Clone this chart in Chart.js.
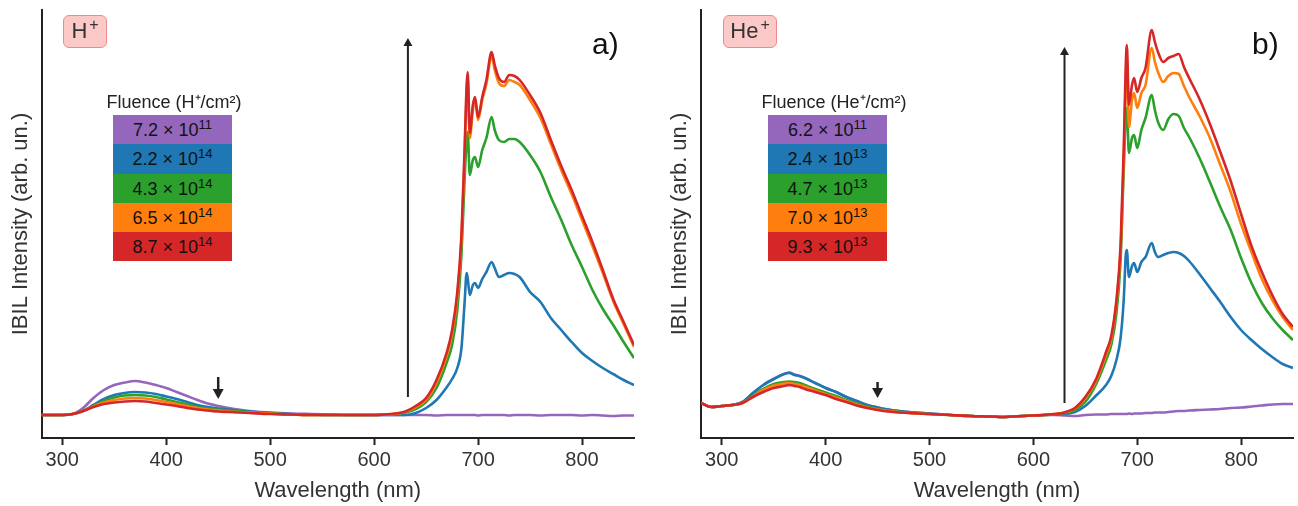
<!DOCTYPE html>
<html>
<head>
<meta charset="utf-8">
<script src="https://cdn.jsdelivr.net/npm/chart.js@4.4.1/dist/chart.umd.min.js"></script>
<style>
  body { margin: 0; background: #fff; font-family: "Liberation Sans", Arial, sans-serif; }
  #wrap { position: relative; width: 1298px; height: 506px; overflow: hidden; }
  canvas { position: absolute; top: 0; }
  .ion { position: absolute; top: 15px; height: 33px; box-sizing: border-box; border: 1.5px solid #f08a8a;
         background: #fcc9c9; border-radius: 6px; font-size: 22px; color: #333; text-align: center; line-height: 30px; }
  .ion sup { font-size: 16px; vertical-align: 8px; line-height: 0; margin-left: 2px; }
  .tag { position: absolute; top: 26px; font-size: 30px; color: #111; line-height: 36px; }
  .leg-title { position: absolute; top: 89px; width: 220px; text-align: center; font-size: 18px; color: #222; line-height: 26px; }
  .leg-box { position: absolute; top: 115px; width: 119px; }
  .leg-row { height: 29.3px; line-height: 30px; text-align: center; font-size: 18px; color: #111; }
  .leg-row sup { font-size: 13px; vertical-align: 7px; line-height: 0; }
</style>
</head>
<body>
<div id="wrap">
  <canvas id="chartH" width="649" height="506" style="left:0"></canvas>
  <canvas id="chartHe" width="649" height="506" style="left:649px"></canvas>

  <div class="ion" style="left:63px;width:44px">H<sup>+</sup></div>
  <div class="ion" style="left:723px;width:54px">He<sup>+</sup></div>
  <div class="tag" style="left:592px">a)</div>
  <div class="tag" style="left:1252px">b)</div>

  <div class="leg-title" style="left:64px">Fluence (H⁺/cm²)</div>
  <div class="leg-box" id="legH" style="left:113px"></div>
  <div class="leg-title" style="left:724px">Fluence (He⁺/cm²)</div>
  <div class="leg-box" id="legHe" style="left:768px"></div>
</div>

<script>
// IBIL spectra, intensity in arbitrary units
const COLORS = ['#9467bd', '#1f77b4', '#2ca02c', '#ff7f0e', '#d62728'];
const X_TICKS = [300, 400, 500, 600, 700, 800];

// a) H+ irradiation
const WAVE_H = [280,290,300,310,320,330,340,350,360,370, 380,390,400,410,420,430,440,450,460,480,
  500,520,540,560,580,600,610,620,630,640, 650,660,670,675,680,684,687,689,690,692,
  695,697,700,704,708,713,716,720,725,730, 735,740,750,760,770,780,790,800,810,820,
  830,840,850];
const H_PURPLE = [23,23,23,24,30,40,48,53,55.5,57, 55.5,53,50,46,42,38,34.5,32,30,27,
  25.5,24.5,24,23.5,23,23,23,23,23,23, 23,22.5,23,23,23,23,23,23,23,23,
  23,23,22.5,23,23,23,23,23,23,22.5, 23,23,23,22.5,23,23,23,22.5,23,22.5,
  22,22.5,22.5];
const H_BLUE = [23,23,23,24,27,33,39,43,45,46, 45.5,44,41.5,39,36,33,31,29.5,28.5,26.5,
  25,24,23.5,23,23,23,23,23,23,25, 30,38,51,59,70,90,135,165,160,143,
  153,155,150,159,166,176,170,161,163,165, 164,161,146,136,120,108,96,85,77,70,
  64,58,53];
const H_GREEN = [23,23,23,24,27,32,37,40.5,42.5,43, 42.5,41,38.5,36,33.5,31,29.5,28.5,27.5,26,
  24.5,23.5,23,23,23,23,23.5,24,25.5,29, 36,50,76,93,128,183,258,298,306,263,
  278,281,271,288,300,321,308,298,296,299, 299,296,283,266,241,218,193,171,148,129,
  113,96,80];
const H_ORANGE = [23,23,23,24,27,31.5,35.5,38,39.5,40, 39.5,38,36,34,32,30,28.5,27.5,26.5,25.5,
  24.5,23.5,23,23,23,23,23.5,24,26,31, 38,55,83,104,141,198,280,346,360,300,
  328,338,318,338,354,382,368,355,352,358, 356,353,338,320,294,268,244,218,192,165,
  137,114,91];
const H_RED = [23,23,23,24,27,31,34,35.5,36.5,37, 36.5,35,33.5,32,30,28.5,27.5,26.5,26,25,
  24,23.5,23,23,23,23,23.5,24.5,26.5,32, 40,58,86,108,146,203,288,353,366,305,
  333,341,321,341,358,386,373,360,356,363, 362,358,343,325,298,272,248,222,196,168,
  139,116,93];
const H_MANT = ['7.2', '2.2', '4.3', '6.5', '8.7'];
const H_EXP = ['11', '14', '14', '14', '14'];
// [wavelength, from, to]
const H_ARROWS = [[450, 61, 39], [632.5, 41, 400]];

// b) He+ irradiation
const WAVE_HE = [280,290,300,310,320, 330,340,350,360,365, 370,375,380,390,400,
  410,420,430,440,450, 460,480,500,520,540, 560,570,580,600,610,
  620,630,640,650,660, 670,675,680,684,687, 689,690,692,695,697,
  700,704,708,714,717, 720,725,730,735,740, 745,750,760,770,780,
  790,800,810,820,830, 840,850];
const HE_PURPLE = [35,31,32,33,36, 45,53,59,64,65.5, 63.5,62,60,55,50,
  46,41,37,33,30.5, 28.5,26,24.5,23,22, 21.5,21,21.5,22.5,23,
  23,22.5,22,23,23.5, 23.5,24,24,24,24, 24,24,24.5,24,24.5,
  24.5,24.5,25,25,25.5, 25.5,25.5,26,26.5,27, 27,27.5,28,28.5,29,
  30,30.5,31.5,32.5,33.5, 34,34];
const HE_BLUE = [35,31,32,33,36, 45,53,59,64,65, 63,62,60,55,50,
  46,41,37,33,30.5, 28.5,26,24.5,23,22, 21.5,21,21.5,22.5,23,
  23.5,24,26,32,42, 53,62,78,100,138, 183,188,161,172,175,
  166,176,181,195,186, 181,183,185,186,185, 182,177,164,150,136,
  121,108,98,89,81, 74,70];
const HE_GREEN = [35,31,32,33,35, 42,49,54,56,56.5, 56,55,53,49,45.5,
  42,38,34.5,31.5,29, 27.5,25.5,24,23,22, 21.5,21,21.5,22.5,23,
  23.5,25,28,36,53, 78,93,125,178,268, 323,330,285,300,303,
  290,308,320,343,328, 316,308,319,324,322, 310,301,280,256,231,
  208,180,155,135,120, 108,98];
const HE_ORANGE = [35,31,32,33,35, 41.5,48,52.5,54.5,55, 54,53,51.5,47.5,44,
  40.5,37,33.5,30.5,28.5, 27,25,24,23,22, 21.5,21,21.5,22.5,23,
  24,25.5,29.5,40,56, 83,99,135,188,278, 358,380,311,338,345,
  330,345,353,390,376, 366,356,362,365,364, 352,341,322,300,273,
  246,214,186,159,138, 121,108];
const HE_RED = [35,31,32,33,35, 41,46,50,52,53, 52,51,49,46,43,
  39,36,32.5,30,28, 26.5,25,24,23,22, 21.5,21,21.5,22.5,23,
  24,25.5,30,41,58, 86,102,138,193,288, 373,393,333,353,360,
  346,360,370,408,396, 386,376,380,382,384, 371,360,339,314,286,
  257,224,192,166,143, 124,111];
const HE_MANT = ['6.2', '2.4', '4.7', '7.0', '9.3'];
const HE_EXP = ['11', '13', '13', '13', '13'];
const HE_ARROWS = [[450, 56, 40], [630, 35, 391]];

const FONT = "'Liberation Sans', Arial, sans-serif";

const arrowPlugin = {
  id: 'arrows',
  afterDatasetsDraw(chart, args, opts) {
    const { ctx, scales: { x, y } } = chart;
    ctx.save();
    ctx.strokeStyle = '#222';
    ctx.fillStyle = '#222';
    opts.list.forEach(([w, from, to]) => {
      const px = x.getPixelForValue(w);
      const y0 = y.getPixelForValue(from);
      const y1 = y.getPixelForValue(to);
      const dir = Math.sign(y1 - y0);
      // the short "decrease" arrows have a heavier head
      const short = Math.abs(y1 - y0) < 60;
      const head = short ? 10 : 8;
      const half = short ? 5.5 : 4.5;
      ctx.lineWidth = short ? 2.5 : 2;
      ctx.beginPath();
      ctx.moveTo(px, y0);
      ctx.lineTo(px, y1 - dir * head);
      ctx.stroke();
      ctx.beginPath();
      ctx.moveTo(px, y1);
      ctx.lineTo(px - half, y1 - dir * head);
      ctx.lineTo(px + half, y1 - dir * head);
      ctx.closePath();
      ctx.fill();
    });
    ctx.restore();
  }
};

function buildLegend(id, mant, exp) {
  document.getElementById(id).innerHTML = mant.map((m, i) =>
    `<div class="leg-row" style="background:${COLORS[i]}">${m} × 10<sup>${exp[i]}</sup></div>`
  ).join('');
}

function makeChart(id, waves, series, arrows, yWidth, titlePad, rightPad) {
  const datasets = series.map((vals, i) => ({
    data: waves.map((w, k) => ({ x: w, y: vals[k] })),
    borderColor: COLORS[i],
    borderWidth: 2.6,
    pointRadius: 0,
    cubicInterpolationMode: 'monotone',
    order: series.length - 1 - i
  }));

  new Chart(document.getElementById(id), {
    type: 'line',
    data: { datasets: datasets },
    plugins: [arrowPlugin],
    options: {
      responsive: false,
      animation: false,
      layout: { padding: { left: 0, top: 10, right: rightPad, bottom: 0 } },
      plugins: {
        legend: { display: false },
        tooltip: { enabled: false },
        arrows: { list: arrows }
      },
      scales: {
        x: {
          type: 'linear',
          min: 280,
          max: 850,
          afterBuildTicks: s => { s.ticks = X_TICKS.map(v => ({ value: v })); },
          afterFit: s => { s.height = 68; },
          ticks: { color: '#333', font: { size: 20, family: FONT }, padding: 3, maxRotation: 0 },
          grid: { drawOnChartArea: false, drawTicks: true, tickLength: 7, tickWidth: 2, tickColor: '#222' },
          border: { display: true, color: '#222', width: 2 },
          title: {
            display: true, text: 'Wavelength (nm)', color: '#333',
            font: { size: 22, family: FONT }, padding: { top: 0, bottom: 2 }
          }
        },
        y: {
          min: 0,
          max: 428,
          afterFit: s => { s.width = yWidth; },
          ticks: { display: false },
          grid: { drawOnChartArea: false, drawTicks: false },
          border: { display: true, color: '#222', width: 2 },
          title: {
            display: true, text: 'IBIL Intensity (arb. un.)', color: '#333',
            font: { size: 22, family: FONT }, padding: { top: titlePad, bottom: 0 }
          }
        }
      }
    }
  });
}

buildLegend('legH', H_MANT, H_EXP);
buildLegend('legHe', HE_MANT, HE_EXP);

makeChart('chartH', WAVE_H, [H_PURPLE, H_BLUE, H_GREEN, H_ORANGE, H_RED], H_ARROWS, 41.5, 8, 15);
makeChart('chartHe', WAVE_HE, [HE_PURPLE, HE_BLUE, HE_GREEN, HE_ORANGE, HE_RED], HE_ARROWS, 52, 18, 5);
</script>
</body>
</html>
